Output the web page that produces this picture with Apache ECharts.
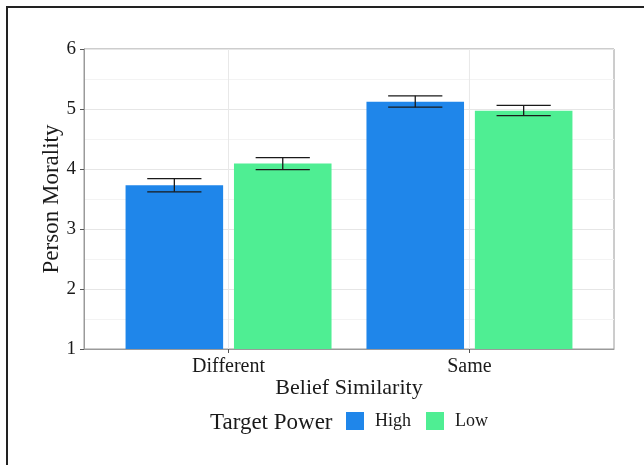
<!DOCTYPE html>
<html>
<head>
<meta charset="utf-8">
<script src="https://cdn.jsdelivr.net/npm/echarts@6/dist/echarts.min.js"></script>
<style>
html,body{margin:0;padding:0;background:#fff;}
#chart{width:644px;height:465px;}
</style>
</head>
<body>
<div id="chart"></div>
<script>
// ---- data ----
var categories = ['Different', 'Same'];
var groups = ['High', 'Low'];
var highMean = [3.73, 5.12];
var highLo   = [3.62, 5.03];
var highHi   = [3.84, 5.22];
var lowMean  = [4.09, 4.97];
var lowLo    = [3.99, 4.89];
var lowHi    = [4.19, 5.06];
var yTicks = [1, 2, 3, 4, 5, 6];

// ---- style ----
var FONT = 'Liberation Serif';
var colors = {High: '#1f86ea', Low: '#4fee93'};
var dodge = 0.225, barW = 0.405, errW = 0.225;

function buildData(mean, lo, hi, off) {
  return categories.map(function (c, i) {
    return [i + 1 + off, mean[i], lo[i], hi[i]];
  });
}

function renderBar(params, api) {
  var x = api.value(0), m = api.value(1), lo = api.value(2), hi = api.value(3);
  var base = api.coord([x - barW / 2, 1]);
  var topR = api.coord([x + barW / 2, m]);
  var eL = api.coord([x - errW / 2, lo]);
  var eH = api.coord([x + errW / 2, hi]);
  var c = api.coord([x, m]);
  var ls = {stroke: '#1a1a1a', lineWidth: 1.3};
  return {
    type: 'group',
    children: [
      {type: 'rect', shape: {x: base[0], y: topR[1], width: topR[0] - base[0], height: base[1] - topR[1]},
       style: {fill: api.visual('color')}},
      {type: 'line', shape: {x1: eL[0], y1: eH[1], x2: eH[0], y2: eH[1]}, style: ls},
      {type: 'line', shape: {x1: eL[0], y1: eL[1], x2: eH[0], y2: eL[1]}, style: ls},
      {type: 'line', shape: {x1: c[0], y1: eL[1], x2: c[0], y2: eH[1]}, style: ls}
    ]
  };
}

function renderVGrid(params, api) {
  var x = api.value(0);
  var p1 = api.coord([x, 1]), p2 = api.coord([x, 6]);
  return {type: 'line', shape: {x1: p1[0], y1: p1[1], x2: p2[0], y2: p2[1]},
          style: {stroke: '#e8e8e8', lineWidth: 1}};
}

var chart = echarts.init(document.getElementById('chart'), null, {renderer: 'canvas'});
chart.setOption({
  backgroundColor: '#fff',
  animation: false,
  textStyle: {fontFamily: FONT},
  grid: {left: 84, right: 30, top: 49, bottom: 116, show: true, borderColor: '#9a9a9a', borderWidth: 1, backgroundColor: 'transparent'},
  xAxis: {
    type: 'value', min: 0.4, max: 2.6,
    name: 'Belief Similarity', nameLocation: 'middle', nameGap: 28, nameMoveOverlap: false,
    nameTextStyle: {fontFamily: FONT, fontSize: 22, color: '#1a1a1a'},
    axisLine: {show: true, lineStyle: {color: '#9a9a9a'}},
    axisTick: {show: true, length: 4, customValues: [1, 2], lineStyle: {color: '#555'}},
    axisLabel: {customValues: [1, 2], margin: 8, fontFamily: FONT, fontSize: 20, color: '#1a1a1a',
      formatter: function (v) { return categories[Math.round(v) - 1] || ''; }},
    splitLine: {show: false}
  },
  yAxis: {
    type: 'value', min: 1, max: 6, interval: 1,
    name: 'Person Morality', nameLocation: 'middle', nameGap: 21, nameMoveOverlap: false,
    nameTextStyle: {fontFamily: FONT, fontSize: 23, color: '#1a1a1a'},
    axisLine: {show: true, lineStyle: {color: '#9a9a9a'}},
    axisTick: {show: true, length: 4, lineStyle: {color: '#555'}},
    axisLabel: {margin: 8, fontFamily: FONT, fontSize: 19, color: '#1a1a1a'},
    splitLine: {show: true, lineStyle: {color: '#e6e6e6', width: 1}},
    minorTick: {show: false, splitNumber: 2},
    minorSplitLine: {show: true, lineStyle: {color: '#f3f3f3', width: 1}}
  },
  legend: {
    data: groups, left: 341, top: 407, orient: 'horizontal',
    itemWidth: 18, itemHeight: 18, itemGap: 15, icon: 'rect',
    textStyle: {fontFamily: FONT, fontSize: 18, color: '#1a1a1a', padding: [0, 0, 0, 6]}
  },
  graphic: [
    {type: 'rect', shape: {x: 7, y: 7, width: 700, height: 500}, style: {fill: 'none', stroke: '#222', lineWidth: 2}, silent: true},
    {type: 'text', left: 210, top: 411, style: {text: 'Target Power', font: '23px "' + FONT + '"', fill: '#1a1a1a'}}
  ],
  series: [
    {type: 'custom', name: 'vgrid', silent: true, z: 1, renderItem: renderVGrid,
     data: categories.map(function (c, i) { return [i + 1]; })},
    {type: 'custom', name: 'High', z: 3, itemStyle: {color: colors.High}, renderItem: renderBar,
     encode: {x: 0, y: [1, 2, 3]}, data: buildData(highMean, highLo, highHi, -dodge)},
    {type: 'custom', name: 'Low', z: 3, itemStyle: {color: colors.Low}, renderItem: renderBar,
     encode: {x: 0, y: [1, 2, 3]}, data: buildData(lowMean, lowLo, lowHi, dodge)}
  ]
});
</script>
</body>
</html>
